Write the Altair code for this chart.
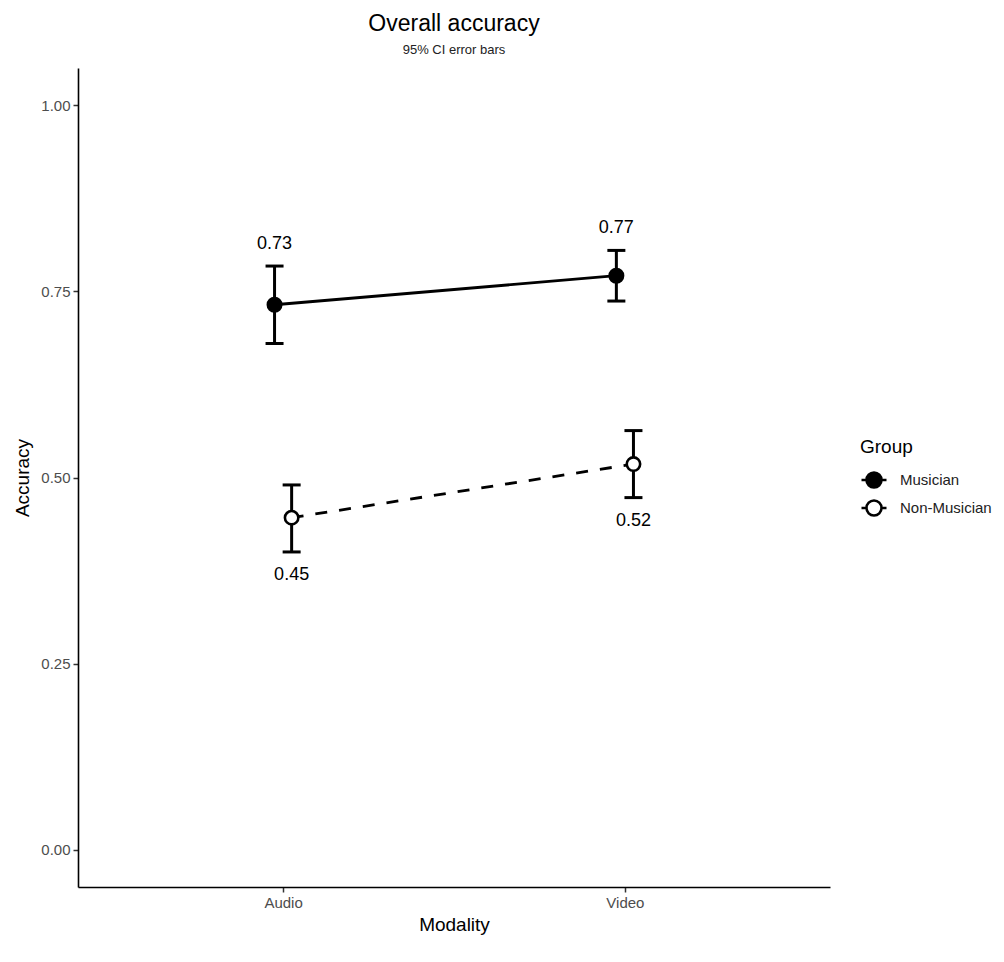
import altair as alt
import pandas as pd

modalities = ["Audio", "Video"]
groups = ["Musician", "Non-Musician"]
musician_mean = [0.732, 0.771]
musician_lower = [0.680, 0.737]
musician_upper = [0.784, 0.805]
nonmusician_mean = [0.446, 0.518]
nonmusician_lower = [0.400, 0.473]
nonmusician_upper = [0.490, 0.563]
y_ticks = [0.0, 0.25, 0.5, 0.75, 1.0]

rows = []
for g, means, lows, ups in [
    (groups[0], musician_mean, musician_lower, musician_upper),
    (groups[1], nonmusician_mean, nonmusician_lower, nonmusician_upper),
]:
    for m, mean, lo, up in zip(modalities, means, lows, ups):
        rows.append(dict(Group=g, Modality=m, mean=mean, lower=lo, upper=up,
                         label=f"{mean:.2f}"))
df = pd.DataFrame(rows)

FONT = "Liberation Sans"
dodge = 0.05
mods_js = "[" + ",".join(f"'{m}'" for m in modalities) + "]"

base = alt.Chart(df).transform_calculate(
    xpos=f"indexof({mods_js}, datum.Modality) + 1 + (datum.Group == '{groups[0]}' ? {-dodge/2} : {dodge/2})"
)

x_enc = alt.X(
    "xpos:Q",
    scale=alt.Scale(domain=[0.4, 2.6], nice=False, zero=False),
    axis=alt.Axis(values=[1, 2], labelExpr=f"{mods_js}[datum.value - 1]",
                  title="Modality", labelPadding=3, titlePadding=5),
)
y_scale = alt.Scale(domain=[-0.05, 1.05], nice=False, zero=False)
y_axis = alt.Axis(values=y_ticks, format=".2f", title="Accuracy",
                  labelPadding=3, titlePadding=8)

line_solid = base.transform_filter(f"datum.Group == '{groups[0]}'").mark_line(
    color="black", strokeWidth=2.8
).encode(
    x=x_enc,
    y=alt.Y("mean:Q", scale=y_scale, axis=y_axis),
)
line_dashed = base.transform_filter(f"datum.Group == '{groups[1]}'").mark_line(
    color="black", strokeWidth=2.8, strokeDash=[12, 12]
).encode(x="xpos:Q", y="mean:Q")

rules = base.mark_rule(color="black", strokeWidth=3).encode(
    x="xpos:Q", y="lower:Q", y2="upper:Q"
)
cap_lo = base.mark_tick(orient="horizontal", size=18, thickness=3, color="black", opacity=1).encode(
    x="xpos:Q", y="lower:Q"
)
cap_hi = base.mark_tick(orient="horizontal", size=18, thickness=3, color="black", opacity=1).encode(
    x="xpos:Q", y="upper:Q"
)

legend_symbol = "M 0.6 0 A 0.6 0.6 0 1 1 -0.6 0 A 0.6 0.6 0 1 1 0.6 0 Z M -1 0 L -0.6 0 M 0.6 0 L 1 0"

points = base.mark_point(filled=True, size=180, stroke="black", strokeWidth=2.6, opacity=1).encode(
    x="xpos:Q",
    y="mean:Q",
    fill=alt.Fill(
        "Group:N",
        scale=alt.Scale(domain=groups, range=["black", "white"]),
        legend=alt.Legend(
            title="Group", orient="none", legendX=782, legendY=370,
            titleFontSize=19, titleFontWeight="normal", titleColor="black", titleFont=FONT,
            labelFontSize=15, labelColor="#222222", labelFont=FONT,
            symbolType=legend_symbol, symbolSize=625, symbolStrokeColor="black",
            symbolStrokeWidth=2.6, rowPadding=1, labelOffset=12,
            titlePadding=9,
        ),
    ),
)

labels_top = base.transform_filter(f"datum.Group == '{groups[0]}'").mark_text(
    fontSize=18, font=FONT, color="black", baseline="middle", dy=-22
).encode(x="xpos:Q", y="upper:Q", text="label:N")

labels_bottom = base.transform_filter(f"datum.Group == '{groups[1]}'").mark_text(
    fontSize=18, font=FONT, color="black", baseline="middle", dy=23
).encode(x="xpos:Q", y="lower:Q", text="label:N")

chart = alt.layer(line_solid, line_dashed, rules, cap_lo, cap_hi, points,
                  labels_top, labels_bottom).properties(
    width=752,
    height=819,
    padding={"left": 70, "top": 60, "right": 166, "bottom": 66},
    autosize=alt.AutoSizeParams(type="none"),
    title=alt.TitleParams(
        "Overall accuracy", subtitle="95% CI error bars", fontSize=23, subtitleFontSize=13,
        font=FONT, subtitleFont=FONT, fontWeight="normal", color="black", subtitleColor="#222222",
        anchor="middle", offset=11, subtitlePadding=8,
    ),
).configure_view(stroke=None).configure_axis(
    grid=False, domainColor="black", domainWidth=1.6, tickColor="#333333", tickSize=5,
    tickWidth=1.5, labelColor="#4d4d4d", labelFontSize=15, labelFont=FONT,
    titleFontSize=19, titleFontWeight="normal", titleColor="black", titleFont=FONT,
)

chart.save("out.html", embed_options={"renderer": "svg", "actions": False})
